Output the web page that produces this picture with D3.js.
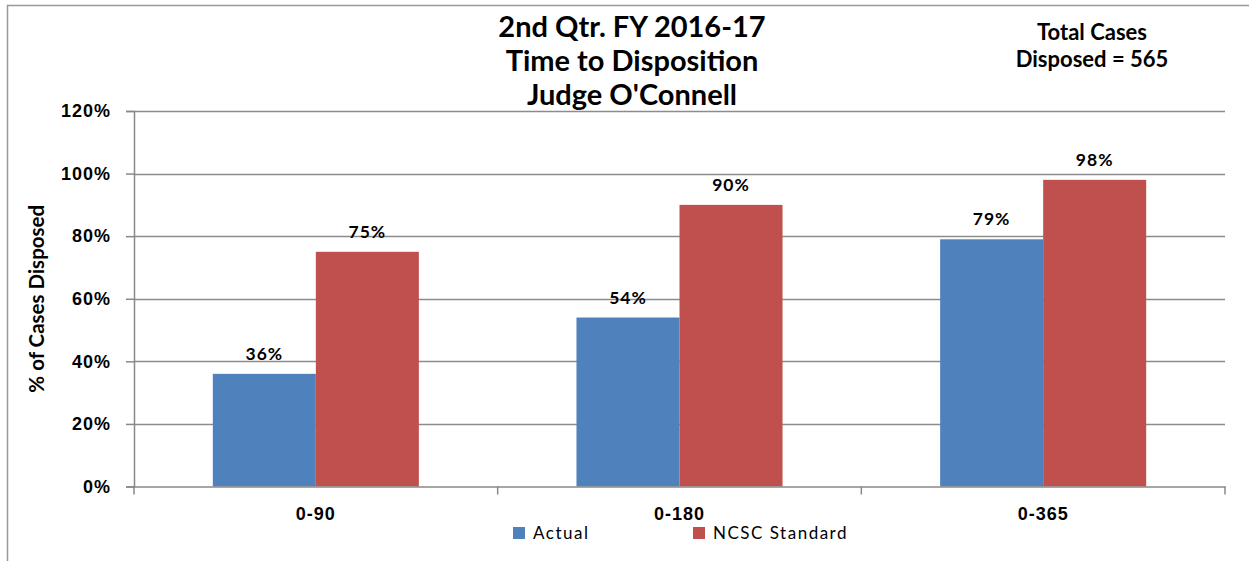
<!DOCTYPE html>
<html>
<head>
<meta charset="utf-8">
<script src="https://cdn.jsdelivr.net/npm/d3@7"></script>
<style>
  body { margin: 0; background: #fff; }
  svg { font-family: Lato, "Open Sans", sans-serif; }
  .axis text { font-weight: bold; font-size: 18px; letter-spacing: 1px; fill: #000; }
  .axis path, .axis line { stroke: #888; }
</style>
</head>
<body>
<div id="chart"></div>
<script>
const categories = ["0-90", "0-180", "0-365"];
const seriesNames = ["Actual", "NCSC Standard"];
const actual = [36, 54, 79];
const standard = [75, 90, 98];
const yTicks = [0, 20, 40, 60, 80, 100, 120];
const titleLines = ["2nd Qtr. FY 2016-17", "Time to Disposition", "Judge O'Connell"];
const noteLines = ["Total Cases", "Disposed = 565"];
const colors = ["#4f81bd", "#c0504d"];

const width = 1249, height = 561;
const margin = { top: 111, left: 134, right: 24, bottom: 74 };

const svg = d3.select("#chart").append("svg")
  .attr("width", width)
  .attr("height", height);

// outer frame (runs off the right and bottom of the picture)
svg.append("rect")
  .attr("x", 7.5).attr("y", 5.5)
  .attr("width", width).attr("height", height)
  .attr("fill", "none").attr("stroke", "#999").attr("stroke-width", 1.5);

const x0 = d3.scaleBand()
  .domain(categories)
  .range([margin.left, width - margin.right]);

const x1 = d3.scaleBand()
  .domain(seriesNames)
  .range([0, x0.bandwidth()])
  .paddingOuter(0.765);

const y = d3.scaleLinear()
  .domain([0, 120])
  .range([height - margin.bottom - 0.5, margin.top]);

// gridlines
svg.append("g")
  .selectAll("line")
  .data(yTicks.slice(1))
  .join("line")
  .attr("x1", margin.left).attr("x2", width - margin.right)
  .attr("y1", (d) => Math.round(y(d)) + 0.5).attr("y2", (d) => Math.round(y(d)) + 0.5)
  .attr("stroke", "#8c8c8c").attr("stroke-width", 1.5);

const yAxis = d3.axisLeft(y)
  .tickValues(yTicks)
  .tickFormat((d) => d + "%")
  .tickSize(8)
  .tickPadding(15);

svg.append("g")
  .attr("class", "axis")
  .attr("transform", `translate(${margin.left},0)`)
  .call(yAxis)
  .call((g) => g.selectAll("path, line").attr("stroke-width", 1.5));

const rows = categories.map((c, i) => ({ cat: c, values: [actual[i], standard[i]] }));

const groups = svg.append("g")
  .selectAll("g")
  .data(rows)
  .join("g")
  .attr("transform", (d) => `translate(${x0(d.cat)},0)`);

groups.selectAll("rect")
  .data((d) => d.values.map((v, j) => ({ name: seriesNames[j], value: v, j })))
  .join("rect")
  .attr("x", (d) => x1(d.name))
  .attr("width", x1.bandwidth())
  .attr("y", (d) => y(d.value))
  .attr("height", (d) => y(0) - y(d.value))
  .attr("fill", (d) => colors[d.j]);

groups.selectAll("text.val")
  .data((d) => d.values.map((v, j) => ({ name: seriesNames[j], value: v })))
  .join("text")
  .attr("class", "val")
  .attr("x", (d) => x1(d.name) + x1.bandwidth() / 2)
  .attr("y", (d) => y(d.value) - 14)
  .attr("text-anchor", "middle")
  .attr("font-weight", "bold")
  .attr("font-size", 17.5)
  .attr("letter-spacing", 1)
  .text((d) => d.value + "%");

// category axis
const xAxis = d3.axisBottom(x0)
  .tickSize(0)
  .tickPadding(21);

const xg = svg.append("g")
  .attr("class", "axis")
  .attr("transform", `translate(0,${y(0)})`)
  .call(xAxis)
  .call((g) => g.select(".domain").attr("stroke-width", 1.5));

xg.selectAll(".sep")
  .data(categories.concat([null]))
  .join("line")
  .attr("class", "sep")
  .attr("x1", (d, i) => i === 0 ? margin.left : x0(categories[i - 1]) + x0.bandwidth())
  .attr("x2", (d, i) => i === 0 ? margin.left : x0(categories[i - 1]) + x0.bandwidth())
  .attr("y1", 0).attr("y2", 8)
  .attr("stroke", "#888").attr("stroke-width", 1.5);

// y title
svg.append("text")
  .attr("transform", `translate(44,${(y(0) + y(120)) / 2}) rotate(-90)`)
  .attr("text-anchor", "middle")
  .attr("font-weight", "bold")
  .attr("font-size", 20.5)
  .text("% of Cases Disposed");

// title
svg.append("text")
  .attr("text-anchor", "middle")
  .attr("font-weight", "bold")
  .attr("font-size", 29)
  .selectAll("tspan")
  .data(titleLines)
  .join("tspan")
  .attr("x", 632)
  .attr("y", (d, i) => 37 + i * 34)
  .text((d) => d);

// note
svg.append("text")
  .attr("text-anchor", "middle")
  .attr("font-weight", "bold")
  .attr("font-size", 22)
  .selectAll("tspan")
  .data(noteLines)
  .join("tspan")
  .attr("x", 1092)
  .attr("y", (d, i) => 40 + i * 27)
  .text((d) => d);

// legend
const legendX = [513, 693];
const legend = svg.append("g")
  .selectAll("g")
  .data(seriesNames)
  .join("g")
  .attr("transform", (d, i) => `translate(${legendX[i]},527)`);

legend.append("rect")
  .attr("width", 12).attr("height", 12)
  .attr("fill", (d, i) => colors[i]);

legend.append("text")
  .attr("x", 20).attr("y", 12)
  .attr("font-size", 17)
  .attr("letter-spacing", 1.5)
  .text((d) => d);
</script>
</body>
</html>
